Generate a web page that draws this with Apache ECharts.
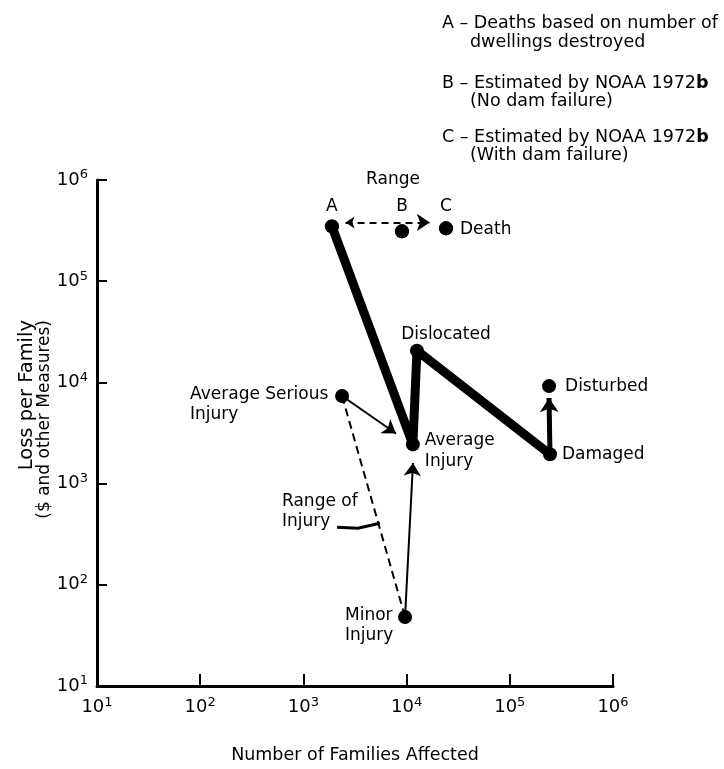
<!DOCTYPE html>
<html><head><meta charset="utf-8">
<script src="https://cdn.jsdelivr.net/npm/echarts@6/dist/echarts.min.js"></script>
<style>html,body{margin:0;padding:0;background:#fff}#c{width:724px;height:769px}</style>
</head><body><div id="c"></div>
<script>
// ---- data ----
const tickExponents = [1, 2, 3, 4, 5, 6];
const pointNames = ['A', 'B', 'C', 'Dislocated', 'Disturbed', 'Damaged', 'Average Injury', 'Average Serious Injury', 'Minor Injury'];
const familiesAffected = [1890, 9020, 24100, 12600, 240000, 245000, 11500, 2370, 9660];
const lossPerFamily = [348000, 311000, 333000, 20600, 9190, 1950, 2440, 7330, 48];
const letterPoints = ['A', 'B', 'C'];
const thickPathNames = ['A', 'Average Injury', 'Dislocated', 'Damaged'];
// arrows (start point, arrow head position)
const deathRangeFamilies = [2560, 16800];
const deathRangeLoss = [381000, 381000];
const seriousArrowFamilies = [2370, 7890];
const seriousArrowLoss = [7330, 3130];
const minorArrowFamilies = [9660, 11530];
const minorArrowLoss = [48, 1600];
const disturbedArrowFamilies = [245000, 240000];
const disturbedArrowLoss = [1950, 7000];
const injuryRangeFamilies = [2370, 9660];
const injuryRangeLoss = [7330, 48];
const leaderFamilies = [2120, 3380, 5520];
const leaderLoss = [371, 362, 405];

// ---- helpers ----
const FONT = 'DejaVu Sans';
const idx = n => pointNames.indexOf(n);
const pt = n => [familiesAffected[idx(n)], lossPerFamily[idx(n)]];
const zip = (xs, ys) => xs.map((x, i) => [x, ys[i]]);

const labelCfg = {
  'A': { show: false },
  'B': { show: false },
  'C': { show: true, position: 'right', distance: 7, offset: [0, 1], formatter: 'Death' },
  'Dislocated': { show: true, position: 'top', distance: 1, offset: [29, 0], formatter: 'Dislocated' },
  'Disturbed': { show: true, position: 'right', distance: 9, formatter: 'Disturbed' },
  'Damaged': { show: true, position: 'right', distance: 5, formatter: 'Damaged' },
  'Average Injury': { show: true, position: 'right', distance: 5, offset: [0, 7], formatter: 'Average\nInjury', lineHeight: 21 },
  'Average Serious Injury': { show: true, position: 'left', distance: 2, offset: [0, 9], formatter: '{w|Average Serious}\n{w|Injury}',
    rich: { w: { width: 143, align: 'left', fontFamily: FONT, fontSize: 17, color: '#000', lineHeight: 20 } } },
  'Minor Injury': { show: true, position: 'left', distance: 4, offset: [0, 9], formatter: '{w|Minor}\n{w|Injury}',
    rich: { w: { width: 49, align: 'left', fontFamily: FONT, fontSize: 17, color: '#000', lineHeight: 20 } } }
};
const letterDist = { 'A': 4, 'B': 9, 'C': 6 };

const baseLabel = { fontFamily: FONT, fontSize: 17, color: '#000' };

const tickRich = {
  a: { fontFamily: FONT, fontSize: 18, color: '#000' },
  b: { fontFamily: FONT, fontSize: 13, color: '#000', padding: [0, 0, 10, 0] }
};
const tickFmt = v => {
  const e = Math.round(Math.log10(v));
  return tickExponents.includes(e) ? '{a|10}{b|' + e + '}' : '';
};

const axisCommon = {
  type: 'log', logBase: 10, min: 10, max: 1e6,
  axisLine: { show: true, onZero: false, lineStyle: { color: '#000', width: 3 } },
  axisTick: { show: true, inside: true, lineStyle: { color: '#000', width: 2 } },
  splitLine: { show: false },
  minorTick: { show: false },
  minorSplitLine: { show: false },
  axisLabel: { formatter: tickFmt, rich: tickRich, showMinLabel: true, showMaxLabel: true, hideOverlap: false }
};

const noteFont = '17.5px ' + FONT;
const chart = echarts.init(document.getElementById('c'), null, { renderer: 'canvas' });
chart.setOption({
  animation: false,
  backgroundColor: '#fff',
  grid: { left: 97, right: 111, top: 180, bottom: 76, containLabel: false },
  xAxis: Object.assign({}, axisCommon, {
    axisTick: Object.assign({}, axisCommon.axisTick, { length: 12 }),
    axisLabel: Object.assign({}, axisCommon.axisLabel, { margin: 10 }),
    name: 'Number of Families Affected', nameLocation: 'middle', nameGap: 60,
    nameTextStyle: { fontFamily: FONT, fontSize: 17.5, color: '#000' }
  }),
  yAxis: Object.assign({}, axisCommon, {
    axisTick: Object.assign({}, axisCommon.axisTick, { length: 10 }),
    axisLabel: Object.assign({}, axisCommon.axisLabel, { margin: 9 })
  }),
  graphic: [
    { type: 'text', x: 36, y: 320, rotation: Math.PI / 2,
      style: { text: '{l1|Loss per Family}\n{l2|($ and other Measures)}', align: 'right', verticalAlign: 'middle',
        rich: { l1: { fontFamily: FONT, fontSize: 19.5, color: '#000', lineHeight: 18 },
                l2: { fontFamily: FONT, fontSize: 17, color: '#000', lineHeight: 18 } } } },
    { type: 'text', x: 393, y: 180, style: { text: 'Range', align: 'center', verticalAlign: 'middle', font: '17px ' + FONT, fill: '#000' } },
    { type: 'text', x: 282, y: 512, style: { text: 'Range of\nInjury', align: 'left', verticalAlign: 'middle', font: '17px ' + FONT, fill: '#000', lineHeight: 20 } },
    { type: 'text', x: 442, y: 23, style: { text: 'A – Deaths based on number of', verticalAlign: 'middle', font: noteFont, fill: '#000' } },
    { type: 'text', x: 470, y: 42, style: { text: 'dwellings destroyed', verticalAlign: 'middle', font: noteFont, fill: '#000' } },
    { type: 'text', x: 442, y: 83, style: { text: 'B – Estimated by NOAA 1972{bb|b}', verticalAlign: 'middle', font: noteFont, fill: '#000',
      rich: { bb: { fontFamily: FONT, fontSize: 17.5, fontWeight: 'bold', color: '#000' } } } },
    { type: 'text', x: 470, y: 101, style: { text: '(No dam failure)', verticalAlign: 'middle', font: noteFont, fill: '#000' } },
    { type: 'text', x: 442, y: 137, style: { text: 'C – Estimated by NOAA 1972{bb|b}', verticalAlign: 'middle', font: noteFont, fill: '#000',
      rich: { bb: { fontFamily: FONT, fontSize: 17.5, fontWeight: 'bold', color: '#000' } } } },
    { type: 'text', x: 470, y: 155, style: { text: '(With dam failure)', verticalAlign: 'middle', font: noteFont, fill: '#000' } }
  ],
  series: [
    { type: 'line', data: thickPathNames.map(pt), symbol: 'none', z: 3,
      lineStyle: { color: '#000', width: 9, cap: 'round', join: 'round' } },
    { type: 'lines', coordinateSystem: 'cartesian2d', z: 4, symbol: ['arrow', 'arrow'], symbolSize: [9, 13],
      lineStyle: { color: '#000', width: 2, type: [7, 5], opacity: 1 },
      data: [{ coords: zip(deathRangeFamilies, deathRangeLoss) }] },
    { type: 'lines', coordinateSystem: 'cartesian2d', z: 4, symbol: ['none', 'arrow'], symbolSize: [9, 13],
      lineStyle: { color: '#000', width: 2, opacity: 1 },
      data: [{ coords: zip(seriousArrowFamilies, seriousArrowLoss) }, { coords: zip(minorArrowFamilies, minorArrowLoss) }] },
    { type: 'lines', coordinateSystem: 'cartesian2d', z: 4, symbol: ['none', 'arrow'], symbolSize: [11, 14],
      lineStyle: { color: '#000', width: 5, opacity: 1 },
      data: [{ coords: zip(disturbedArrowFamilies, disturbedArrowLoss) }] },
    { type: 'lines', coordinateSystem: 'cartesian2d', z: 4, symbol: 'none',
      lineStyle: { color: '#000', width: 2, type: [8, 5], opacity: 1 },
      data: [{ coords: zip(injuryRangeFamilies, injuryRangeLoss) }] },
    { type: 'lines', coordinateSystem: 'cartesian2d', polyline: true, z: 4, symbol: 'none',
      lineStyle: { color: '#000', width: 3, opacity: 1, curveness: 0 },
      data: [{ coords: zip(leaderFamilies, leaderLoss) }] },
    { type: 'scatter', z: 10, symbol: 'circle', symbolSize: 14, itemStyle: { color: '#000', opacity: 1 },
      data: pointNames.map(n => ({ name: n, value: pt(n), label: Object.assign({}, baseLabel, labelCfg[n]) })) },
    { type: 'scatter', z: 10, symbol: 'circle', symbolSize: 14, itemStyle: { color: '#000', opacity: 1 },
      data: letterPoints.map(n => ({ name: n, value: pt(n),
        label: Object.assign({}, baseLabel, { show: true, position: 'top', distance: letterDist[n], formatter: n }) })) }
  ]
});
</script></body></html>
